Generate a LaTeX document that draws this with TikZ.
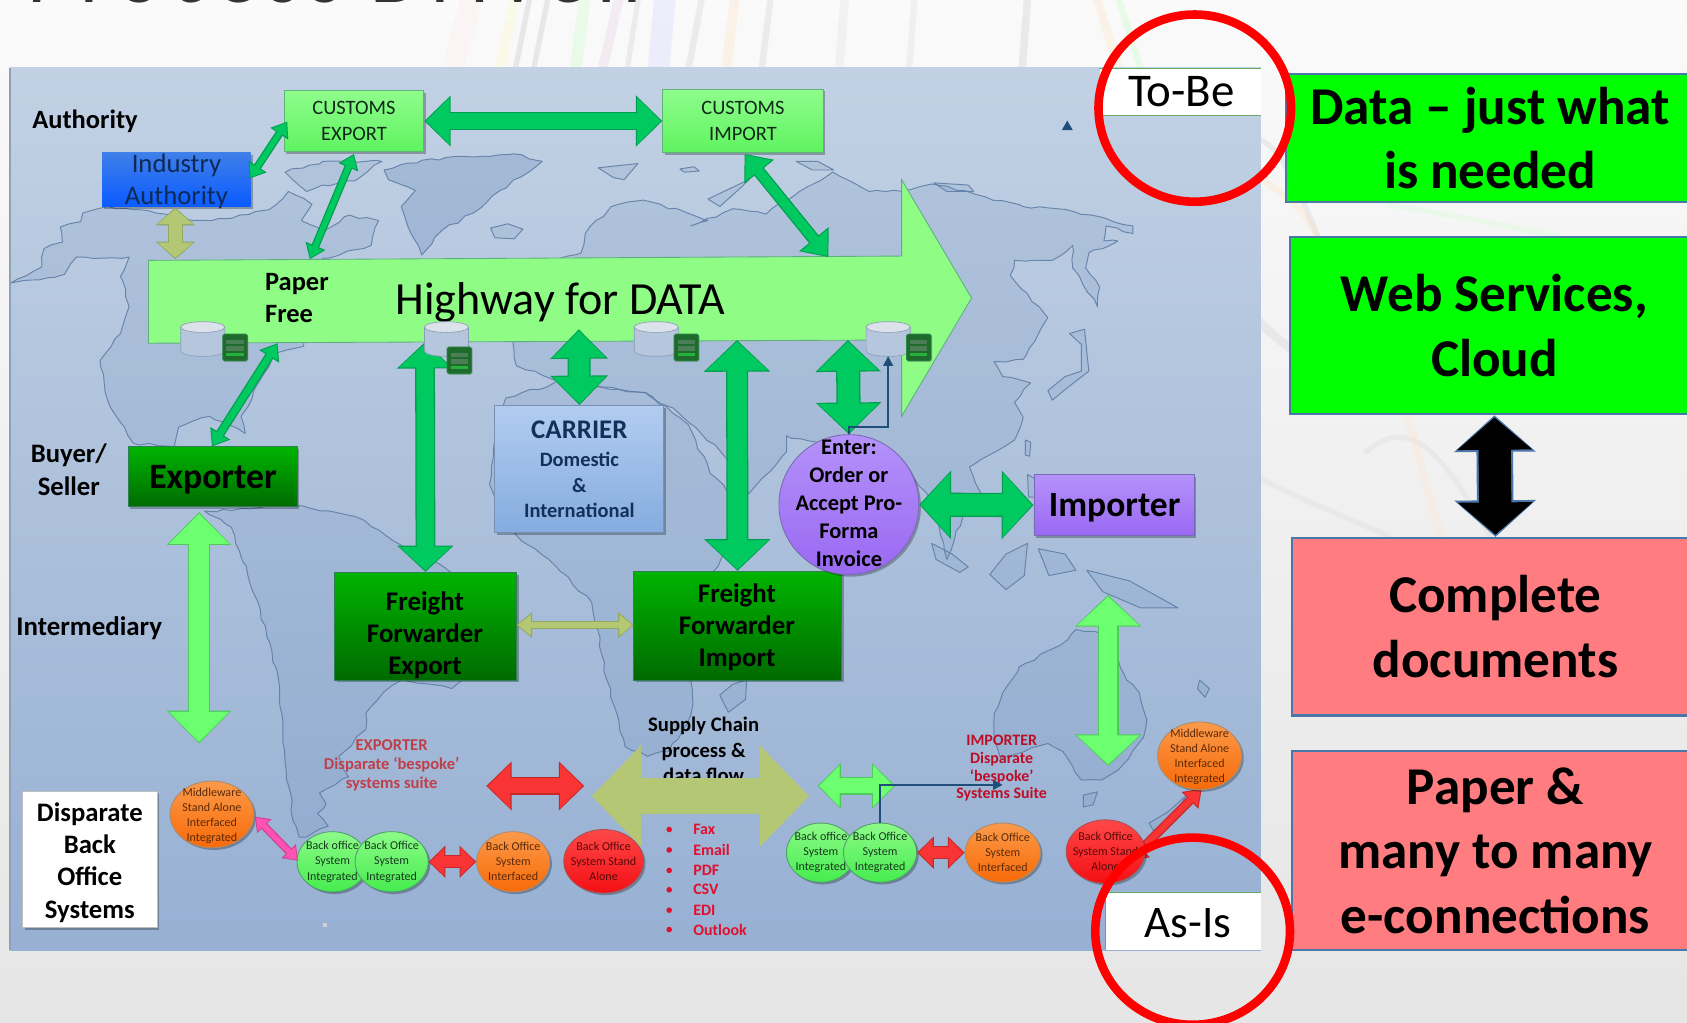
\documentclass[tikz,border=0pt]{standalone}
\usepackage{fontspec}
\setmainfont{Carlito}
\usetikzlibrary{arrows.meta,shapes.geometric,shadows,calc,decorations.pathmorphing}
\definecolor{navy}{HTML}{1F4E79}
\definecolor{armG}{HTML}{00C95F}\definecolor{armGd}{HTML}{009E4E}
\definecolor{armL}{HTML}{6CFF70}\definecolor{armLd}{HTML}{4CCB5A}
\definecolor{armO}{HTML}{B4C774}\definecolor{armOd}{HTML}{93A860}
\definecolor{armR}{HTML}{F93434}\definecolor{armRd}{HTML}{C62828}
\definecolor{edgeB}{HTML}{4A76A8}
\definecolor{redtxt}{HTML}{E0102E}
\definecolor{brick}{HTML}{C0404A}
\definecolor{cylb}{HTML}{B5C6DD}\definecolor{cyle}{HTML}{DCE2EA}\definecolor{cyld}{HTML}{8C9DB6}
\definecolor{srv}{HTML}{1F6B2E}\definecolor{srvd}{HTML}{2E8B47}\definecolor{srvl}{HTML}{4A7F55}\definecolor{srvb}{HTML}{27B03C}
\definecolor{landf}{HTML}{6E8FBC}\definecolor{landl}{HTML}{5B7AA2}
\definecolor{lg1}{HTML}{8FFD8C}\definecolor{lg2}{HTML}{5FF360}\definecolor{lg3}{HTML}{5FB578}\definecolor{txg}{HTML}{0F2A18}
\definecolor{dg1}{HTML}{00B400}\definecolor{dg2}{HTML}{006A00}\definecolor{dg3}{HTML}{2F7F55}
\definecolor{pinkbox}{HTML}{FF7C80}
\definecolor{or1}{HTML}{FB9A4A}\definecolor{or2}{HTML}{F86A08}\definecolor{or3}{HTML}{A98B6E}
\definecolor{gv1}{HTML}{8DFB88}\definecolor{gv2}{HTML}{45EC4E}\definecolor{gv3}{HTML}{4E9E6E}
\definecolor{rv1}{HTML}{FF4848}\definecolor{rv2}{HTML}{F30F14}\definecolor{rv3}{HTML}{A85050}
\definecolor{hw1}{HTML}{8EFC85}\definecolor{hwl}{HTML}{5FAE82}
\definecolor{panT}{HTML}{C2D1E4}\definecolor{panB}{HTML}{97B0D3}\definecolor{panE}{HTML}{8DA1BB}
\definecolor{indT}{HTML}{3F7FEA}\definecolor{indB}{HTML}{0A5BFF}\definecolor{indX}{HTML}{0C2A55}
\definecolor{carT}{HTML}{B2CCF0}\definecolor{carB}{HTML}{84ACDF}\definecolor{carD}{HTML}{7791B5}\definecolor{carX}{HTML}{12305A}
\definecolor{puT}{HTML}{B492FA}\definecolor{puB}{HTML}{9A68F2}\definecolor{puD}{HTML}{7A6AB5}
\definecolor{brownt}{HTML}{5C2A08}\definecolor{greent}{HTML}{17391F}\definecolor{redt}{HTML}{5A0808}
\definecolor{pinkar}{HTML}{FF52B4}\definecolor{pinkard}{HTML}{C9488F}
\newcommand{\fs}[2]{\fontsize{#1pt}{#2pt}\selectfont}
\newcommand{\bxn}[7]{%
 \pgfmathsetmacro\cxx{(#2+#4)/2}\pgfmathsetmacro\cyy{(#3+#5)/2}%
 \pgfmathsetmacro\wwv{(#4-#2)*.5}\pgfmathsetmacro\hhv{(#5-#3)*.5}%
 \node[#6,minimum width=\wwv pt,minimum height=\hhv pt,inner sep=0pt,align=center] (#1) at (\cxx,\cyy) {#7};}
% name x1 y1 x2 y2 style text-style text
\newcommand{\eln}[8]{%
 \pgfmathsetmacro\cxx{(#2+#4)/2}\pgfmathsetmacro\cyy{(#3+#5)/2}%
 \pgfmathsetmacro\wwv{(#4-#2)*.5}\pgfmathsetmacro\hhv{(#5-#3)*.5}%
 \node[ellipse,#6,minimum width=\wwv pt,minimum height=\hhv pt,inner sep=0pt,
   label={[align=center,inner sep=0pt,#7]center:{#8}}] (#1) at (\cxx,\cyy) {};}
% from, to, shaft, head width, head length, fill, edge
\newcommand{\dblarrow}[7]{%
 \pgfmathsetmacro\sa{(#3+2.4)*.5}\pgfmathsetmacro\wa{(#4+4)*.5}\pgfmathsetmacro\la{(#5+2.5)*.5}%
 \pgfmathsetmacro\sb{#3*.5}\pgfmathsetmacro\wb{#4*.5}\pgfmathsetmacro\lb{#5*.5}%
 \draw[#7,line width=\sa pt,{Triangle[width=\wa pt,length=\la pt]}-{Triangle[width=\wa pt,length=\la pt]}] (#1) -- (#2);
 \draw[#6,line width=\sb pt,shorten >=.7pt,shorten <=.7pt,{Triangle[width=\wb pt,length=\lb pt]}-{Triangle[width=\wb pt,length=\lb pt]}] (#1) -- (#2);}
% cylinder, server
\newcommand{\dbicon}[5]{%
 \coordinate (#1bot) at ($(#2,#3)+(0,16)$);
 \draw[fill=cylb,draw=cyld,line width=.3pt] ($(#2,#3)+(-20.5,-11)$) -- ($(#2,#3)+(-20.5,11)$)
   .. controls ($(#2,#3)+(-20.5,18)$) and ($(#2,#3)+(20.5,18)$) .. ($(#2,#3)+(20.5,11)$) -- ($(#2,#3)+(20.5,-11)$) -- cycle;
 \draw[fill=cyle,draw=cyld,line width=.3pt] ($(#2,#3)+(0,-11)$) ellipse [x radius=20.5,y radius=5];
 \node[rounded corners=.8pt,fill=srv,draw=srvd,line width=.4pt,minimum width=11.5pt,minimum height=12.5pt,inner sep=0pt,
   drop shadow={shadow xshift=.5pt,shadow yshift=-.5pt,opacity=.25}] (#1srv) at (#4,#5) {};
 \fill[srvl] ($(#4,#5)+(-8,-7)$) rectangle ($(#4,#5)+(8,-3)$);
 \fill[srvl] ($(#4,#5)+(-8,-1)$) rectangle ($(#4,#5)+(8,3)$);
 \fill[srvb] ($(#4,#5)+(-8,5)$) rectangle ($(#4,#5)+(8,8)$);}
\tikzset{
 softsh/.style={drop shadow={shadow xshift=1pt,shadow yshift=-1pt,opacity=.28,fill=black}},
 land/.style={fill=landf,fill opacity=.16,draw=landl,draw opacity=.85,line width=.45pt,line join=round},
 coast/.style={land,decorate,decoration={random steps,segment length=4pt,amplitude=.7pt}},
 streak/.style={line width=#1*.5pt,opacity=.3,line cap=round},
 greenbox/.style={top color=lg1,bottom color=lg2,draw=lg3,line width=.4pt,softsh,text=txg},
 darkgreen/.style={top color=dg1,bottom color=dg2,draw=dg3,line width=.4pt,softsh,text=black},
 rtgreen/.style={fill=green,draw=edgeB,line width=1pt,text=black},
 rtpink/.style={fill=pinkbox,draw=edgeB,line width=1pt,text=black},
 lab/.style={inner sep=0pt,align=center,text=black},
 orangeov/.style={top color=or1,bottom color=or2,draw=or3,line width=.4pt,softsh},
 greenov/.style={top color=gv1,bottom color=gv2,draw=gv3,line width=.4pt,softsh},
 redov/.style={top color=rv1,bottom color=rv2,draw=rv3,line width=.4pt,softsh},
 redring/.style={ellipse,draw=red,line width=4pt,inner sep=0pt,fill=none},
 wtag/.style={fill=white,draw=none,text=black},
 ovO/.style={font=\fs{5.6}{6.9},text=brownt},
 ovG/.style={font=\fs{5.6}{7},text=greent},
 ovR/.style={font=\fs{5.6}{7},text=redt},
}
\begin{document}
\begin{tikzpicture}[x=.5pt,y=-.5pt]
\useasboundingbox (0,0) rectangle (1568,950.8);
\clip (0,0) rectangle (1568,950.8);
\pgfmathsetseed{7}
\shade[top color=black!2,bottom color=black!10] (0,0) rectangle (1568,950.8);
% faint background streaks
\foreach \a/\b/\c/\w in {438/421/pink!35/20,478/465/yellow!25/9,492/479/black!25/5,509/496/black!25/5,543/535/green!22/11,575/560/violet!20/9,593/583/black!20/5,618/612/blue!18/20,652/640/black!20/6,683/675/orange!25/9,716/708/black!20/6,785/780/black!12/8,850/845/black!15/6,955/950/black!22/7,1020/1040/orange!25/8,1040/1060/green!25/6}{
 \draw[streak=\w,\c] (\a,0) -- (\b,64);}
\draw[streak=5,black!20] (1172,130) .. controls (1190,140) and (1200,160) .. (1225,220);
\draw[streak=6,orange!25] (1172,165) .. controls (1190,180) and (1210,190) .. (1225,220);
\draw[streak=5,green!18] (1290,190) .. controls (1350,200) and (1400,210) .. (1450,220);
\draw[streak=8,black!18] (1172,300) .. controls (1190,320) and (1210,330) .. (1230,345);
\draw[streak=5,black!15] (1172,445) .. controls (1210,465) and (1250,480) .. (1290,498);
\draw[streak=5,black!15] (1270,420) .. controls (1310,385) and (1340,420) .. (1385,498);
\draw[streak=7,orange!20] (1308,385) .. controls (1320,430) and (1330,470) .. (1340,498);
% map panel
\bxn{panel}{9}{63}{1172}{883}{top color=panT,bottom color=panB,draw=none}{}
\fill[panE] (8,63) rectangle (10.5,883);
% land
\path[coast] (10,263)--(39,248)--(41,231)--(58,225)--(56,211)--(75,206)--(77,198)--(100,192)--(145,198)--(180,205)--(215,203)--(250,195)--(268,178)--(290,190)--(280,205)--(300,215)--(325,200)--(352,205)--(345,228)--(300,240)--(290,250)--(285,300)--(282,322)--(257,328)--(224,387)--(228,403)--(195,387)--(166,397)--(162,415)--(124,412)--(100,372)--(93,335)--(112,310)--(120,285)--(112,257)--(120,239)--(71,239)--(60,255)--cycle;
\path[coast] (265,160)--(300,150)--(355,150)--(330,168)--(300,172)--(285,178)--cycle;
\path[coast,fill opacity=.32] (357,158)--(392,149)--(477,143)--(504,150)--(465,177)--(440,198)--(411,214)--(392,237)--(382,217)--(373,192)--(386,177)--(361,167)--cycle;
\path[land] (456,212)--(472,208)--(486,213)--(478,222)--(460,221)--cycle;
\path[land] (556,156)--(593,152)--(580,167)--(570,165)--cycle;
\path[land] (632,157)--(645,155)--(650,159)--(636,160)--cycle;
\path[land] (658,185)--(696,167)--(689,174)--(669,192)--cycle;
\path[land] (740,150)--(760,150)--(775,158)--(755,158)--cycle;
\path[land] (868,170)--(900,172)--(905,178)--(880,178)--cycle;
\path[coast] (540,235)--(544,217)--(568,192)--(598,186)--(639,198)--(658,205)--(642,210)--(681,194)--(712,199)--(743,178)--(774,160)--(808,178)--(839,178)--(866,171)--(908,181)--(951,192)--(982,194)--(1028,203)--(1053,210)--(1053,217)--(1028,210)--(1026,224)--(1039,224)--(1012,235)--(1009,249)--(1022,267)--(1020,285)--(997,249)--(997,228)--(978,242)--(943,242)--(939,256)--(974,295)--(962,317)--(951,334)--(924,336)--(932,350)--(958,356)--(943,374)--(951,388)--(943,409)--(912,427)--(901,434)--(912,459)--(895,480)--(880,520)--(868,470)--(840,430)--(790,420)--(731,405)--(731,420)--(708,445)--(696,459)--(670,420)--(631,384)--(600,365)--(520,355)--(480,340)--(470,280)--(520,240)--cycle;
\path[coast] (470,370)--(520,355)--(600,365)--(640,395)--(660,440)--(690,470)--(670,520)--(645,560)--(642,632)--(644,655)--(639,672)--(622,698)--(602,703)--(581,694)--(564,632)--(550,560)--(510,520)--(470,490)--(455,450)--(462,400)--cycle;
\path[land] (669,646)--(681,636)--(694,632)--(693,650)--(677,662)--cycle;
\path[coast] (190,475)--(215,490)--(240,560)--(259,632)--(263,682)--(266,716)--(270,737)--(272,762)--(278,778)--(285,778)--(305,768)--(295,756)--(303,747)--(297,737)--(324,722)--(315,703)--(340,678)--(340,663)--(357,643)--(373,632)--(420,640)--(470,600)--(470,560)--(380,510)--(330,480)--(280,470)--(240,472)--cycle;
\path[coast] (924,663)--(932,644)--(947,620)--(985,600)--(1000,585)--(1030,590)--(1047,632)--(1059,644)--(1066,669)--(1063,685)--(1039,716)--(1024,725)--(1005,725)--(993,706)--(985,697)--(974,691)--(951,699)--(930,705)--(925,690)--cycle;
\path[land] (1007,739)--(1020,736)--(1016,748)--(1007,750)--cycle;
\path[land] (1068,765)--(1085,755)--(1102,740)--(1092,760)--(1072,772)--cycle;
\path[land] (1115,632)--(1124,640)--(1120,648)--(1113,640)--cycle;
\path[land] (974,363)--(990,350)--(1005,345)--(1005,320)--(994,310)--(1008,306)--(1012,345)--(990,362)--(978,372)--cycle;
\path[land] (866,505)--(885,515)--(900,527)--(892,532)--(870,520)--cycle;
\path[land] (920,534)--(935,515)--(955,505)--(952,535)--(935,548)--cycle;
\path[land] (955,441)--(962,445)--(964,462)--(956,462)--cycle;
\path[land] (953,409)--(958,411)--(957,424)--(953,423)--cycle;
\path[land] (965,510)--(990,515)--(1000,530)--(975,535)--cycle;
\path[land] (1010,530)--(1050,540)--(1095,565)--(1060,565)--(1025,550)--cycle;
% tags
\bxn{tobe}{1022}{64}{1172}{107}{wtag}{}
\node[lab,font=\fs{21.8}{24}] (tobet) at (1098,85.5) {To-Be};
\bxn{asis}{1028}{830}{1172}{883}{wtag}{}
\node[lab,font=\fs{21}{24}] (asist) at (1104,858.5) {As-Is};
\draw[green!45!black!60,line width=.4pt] (tobe.north west) -- (tobe.north east);
\draw[green!45!black!60,line width=.4pt] (tobe.south west) -- (tobe.south east);
\draw[green!45!black!60,line width=.4pt] (asis.south west) -- (asis.north west) -- (asis.north east);
% triangle mark
\node[isosceles triangle,isosceles triangle apex angle=60,shape border rotate=90,fill=navy,inner sep=0pt,minimum size=4.4pt] (tri) at (992,118) {};
% labels
\node[lab,font=\fs{12.3}{14}\bfseries] (lauth) at (79,112.5) {Authority};
\node[lab,font=\fs{12.4}{15}\bfseries] (lbuyer) at (64,436.5) {Buyer/\\Seller};
\node[lab,font=\fs{12.5}{14}\bfseries] (linter) at (83,584) {Intermediary};
% highway
\path[top color=hw1,bottom color=hw1,draw=hwl,line width=.4pt] (138,242)--(838,238)--(838,167)--(903,277)--(838,387)--(838,316)--(138,319)--cycle;
\bxn{hw}{138}{240}{838}{318}{draw=none}{}
\node[lab,font=\fs{21.4}{24}] (hwt) at (521,281) {Highway for DATA};
\node[lab,font=\fs{12.3}{15}\bfseries,align=left,anchor=west] (paper) at (246,277) {Paper\\Free};
% top boxes
\bxn{cexp}{264}{84}{394}{141}{greenbox,font=\fs{9.5}{11.8}}{CUSTOMS\\EXPORT}
\bxn{cimp}{616}{83}{765}{142}{greenbox,font=\fs{9.5}{11.8}}{CUSTOMS\\IMPORT}
\bxn{ind}{95}{142}{233}{192}{top color=indT,bottom color=indB,draw=none,softsh}{}
\node[lab,text=indX,font=\fs{12.4}{15}] (indt) at (164,168.5) {Industry\\Authority};
\bxn{carr}{460}{377}{617}{495}{top color=carT,bottom color=carB,draw=carD,line width=.4pt,softsh,text=carX,font=\fs{9.5}{11.7}\bfseries}{{\fs{12.5}{14}CARRIER}\\[1.5pt]Domestic\\\&\\International}
\bxn{expo}{119}{415}{276}{471}{darkgreen}{}
\node[lab,font=\fs{16.6}{18}\bfseries] (expot) at (198,446) {Exporter};
\bxn{ffe}{311}{532}{480}{632}{darkgreen}{}
\node[lab,font=\fs{12.5}{15}\bfseries] (ffet) at (395,590.5) {Freight\\Forwarder\\Export};
\bxn{ffi}{589}{531}{782}{632}{darkgreen}{}
\node[lab,font=\fs{12.5}{15}\bfseries] (ffit) at (685,583) {Freight\\Forwarder\\Import};
\bxn{impo}{961}{441}{1110}{498}{top color=puT,bottom color=puB,draw=puD,line width=.4pt,softsh}{}
\node[lab,font=\fs{16.5}{18}\bfseries] (impot) at (1036,472) {Importer};
\eln{enter}{724}{404}{854}{534}{top color=puT,bottom color=puB,draw=puD,line width=.4pt,softsh}{font=\fs{10.4}{13.1}\bfseries,yshift=.6pt}{Enter:\\Order or\\Accept Pro-\\Forma\\Invoice}
% named ends of connectors
\coordinate (ia1) at (232,166);\coordinate (ia2) at (267,113);
\coordinate (ch1) at (329,143);\coordinate (ch2) at (288,241);
\coordinate (cih1) at (692,143);\coordinate (cih2) at (770,239);
\coordinate (eh1) at (258,319);\coordinate (eh2) at (197,415);
\coordinate (ih1) at (163,193);\coordinate (ih2) at (163,241);
\coordinate (ce1) at (538,306);
\coordinate (fe1) at (395,318);
\coordinate (fi1) at (685,316);
\coordinate (en1) at (788,316);
\coordinate (ei1) at (185,476);\coordinate (ei2) at (185,691);
\coordinate (fr1) at (480,581);\coordinate (fr2) at (589,581);
% connectors
\dblarrow{cexp.east}{cimp.west}{14}{42}{22}{armG}{armGd}
\dblarrow{ia1}{ia2}{5}{15}{11}{armG}{armGd}
\dblarrow{ch1}{ch2}{5}{15}{11}{armG}{armGd}
\dblarrow{cih1}{cih2}{9}{30}{19}{armG}{armGd}
\dblarrow{eh1}{eh2}{6}{17}{12}{armG}{armGd}
\dblarrow{ih1}{ih2}{12}{32}{14}{armO}{armOd}
\dblarrow{ce1}{carr.north}{19}{48}{25}{armG}{armGd}
\dblarrow{fe1}{ffe.north}{16}{47}{22}{armG}{armGd}
\dblarrow{fi1}{ffi.north}{18}{56}{27}{armG}{armGd}
\dblarrow{en1}{enter.north}{20}{55}{27}{armG}{armGd}
\dblarrow{enter.east}{impo.west}{20}{58}{27}{armG}{armGd}
\dblarrow{ei1}{ei2}{18}{54}{28}{armL}{armLd}
\dblarrow{fr1}{fr2}{5}{19}{12}{armO}{armOd}
% database icons
\dbicon{dba}{188.5}{315}{218.5}{323}
\dbicon{dbb}{415}{315}{427}{335}
\dbicon{dbc}{610}{315}{638}{323}
\dbicon{dbd}{825.5}{315}{854}{323}
\coordinate (nvb) at (825.5,397);
\draw[navy,line width=.75pt,-{Triangle[width=4.5pt,length=4.5pt]}] (enter.north) |- (nvb) -- (dbdbot);
% bottom: supply chain
\node[lab,font=\fs{9.6}{11.7}\bfseries] (sup) at (654,697) {Supply Chain\\process \&\\data flow};
\coordinate (sc1) at (550,740);\coordinate (sc2) at (752,740);
\draw[armO,line width=16.5pt,{Triangle[width=46pt,length=23pt]}-{Triangle[width=46pt,length=23pt]}] (sc1) -- (sc2);
\node[lab,font=\fs{7.7}{9}\bfseries,text=brick] (expt) at (364,711.5) {EXPORTER\\Disparate ‘bespoke’\\systems suite};
\node[lab,font=\fs{7.4}{8.3}\bfseries,text=redtxt!85!black] (impt) at (931,714) {IMPORTER\\Disparate\\‘bespoke’\\Systems Suite};
\foreach \n/\t/\y in {1/Fax/771,2/Email/790,3/PDF/809,4/CSV/827,5/EDI/846,6/Outlook/864}{
 \node[lab,font=\fs{7.4}{9}\bfseries,text=redtxt,anchor=west] (li\n) at (644,\y) {\t};
 \fill[redtxt] (622,\y) circle (2.6);}
% disparate box
\bxn{disp}{21}{736}{146}{862}{fill=white,draw=black!25,line width=.4pt,softsh}{}
\node[lab,font=\fs{12.4}{15}\bfseries] (dispt) at (83.5,801.5) {Disparate\\Back\\Office\\Systems};
% ovals
\eln{mwl}{158}{726}{236}{788}{orangeov}{ovO,yshift=-.6pt}{Middleware\\Stand Alone\\Interfaced\\Integrated}
\eln{gl1}{276}{773}{342}{829}{greenov}{ovG}{Back office\\System\\Integrated}
\eln{gl2}{330}{773}{398}{829}{greenov}{ovG}{Back Office\\System\\Integrated}
\eln{orl}{443}{773}{511}{829}{orangeov}{ovO,font=\fs{5.6}{7}}{Back Office\\System\\Interfaced}
\eln{rdl}{524}{771}{598}{830}{redov}{ovR}{Back Office\\System Stand\\Alone}
\eln{gr1}{731}{765}{795}{820}{greenov}{ovG}{Back office\\System\\Integrated}
\eln{gr2}{784}{765}{852}{820}{greenov}{ovG}{Back Office\\System\\Integrated}
\eln{orr}{897}{765}{967}{820}{orangeov}{ovO,font=\fs{5.6}{7}}{Back Office\\System\\Interfaced}
\coordinate (rm1) at (1050,800);\coordinate (rm2) at (1117,733);
\dblarrow{rm1}{rm2}{6}{17}{13}{armR}{armRd}
\eln{rdr}{991}{762}{1064}{821}{redov}{ovR}{Back Office\\System Stand\\Alone}
\eln{mwr}{1076}{671}{1154}{734}{orangeov}{ovO,yshift=-.6pt}{Middleware\\Stand Alone\\Interfaced\\Integrated}
% bottom connectors
\coordinate (rd1) at (452,730.5);\coordinate (rd2) at (543,730.5);
\coordinate (gd1) at (760,730.5);\coordinate (gd2) at (832,730.5);
\coordinate (au1) at (1030,553);\coordinate (au2) at (1030,712);
\coordinate (pk1) at (237,759);\coordinate (pk2) at (277,800);
\coordinate (nvt) at (932,729.5);
\dblarrow{rd1}{rd2}{14}{40}{21}{armR}{armRd}
\dblarrow{gd1}{gd2}{14}{37}{19}{armL}{armLd}
\dblarrow{au1}{au2}{17}{56}{27}{armL}{armLd}
\dblarrow{pk1}{pk2}{5}{14}{10}{pinkar}{pinkard}
\dblarrow{gl2.east}{orl.west}{10}{25}{13}{armR}{armRd}
\dblarrow{gr2.east}{orr.west}{10}{25}{13}{armR}{armRd}
\draw[navy,line width=.75pt,-{Triangle[width=4.5pt,length=4.5pt]}] (gr2.north) |- (nvt);
\fill[black!18] (300,858) rectangle (304,862);
% right boxes
\bxn{r1}{1195}{69}{1575}{188}{rtgreen,font=\fs{24.7}{30}\bfseries}{Data – just what\\is needed}
\bxn{r2}{1199}{220}{1579}{385}{rtgreen,font=\fs{24.7}{30}\bfseries}{Web Services,\\Cloud}
\bxn{r3}{1201}{500}{1579}{665}{rtpink,font=\fs{24.7}{30}\bfseries}{Complete\\documents}
\bxn{r4}{1201}{698}{1579}{883}{rtpink,font=\fs{24.7}{30}\bfseries}{Paper \&\\many to many\\e-connections}
\draw[edgeB,line width=17pt,{Triangle[width=37pt,length=17pt]}-{Triangle[width=37pt,length=17pt]}] (r2.south) -- (r3.north);
\draw[black,line width=15pt,shorten >=1pt,shorten <=1pt,{Triangle[width=34pt,length=15pt]}-{Triangle[width=34pt,length=15pt]}] (r2.south) -- (r3.north);
% red rings
\node[redring,minimum width=89.5pt,minimum height=87pt] (ring1) at (1110.5,100.5) {};
\node[redring,minimum width=90.5pt,minimum height=87pt] (ring2) at (1108.5,865.5) {};
% title, cut off by the top edge
\node[anchor=base west,inner sep=0pt,text=black!80,font=\fs{38.5}{40}\addfontfeature{LetterSpace=12}] (title) at (25,2.5) {Process Driven};
\end{tikzpicture}
\end{document}
